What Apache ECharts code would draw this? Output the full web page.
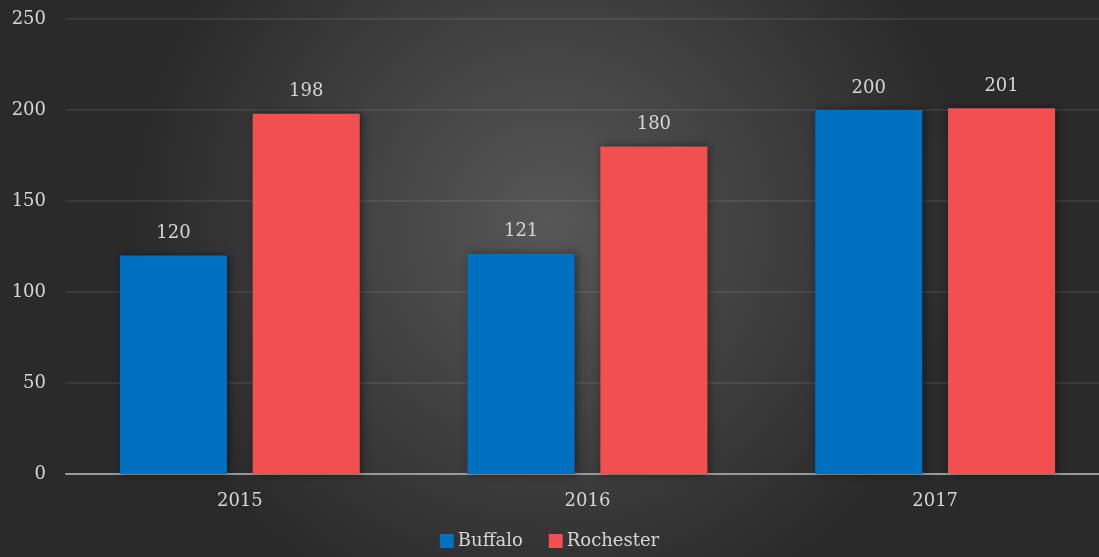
<!DOCTYPE html>
<html>
<head>
<meta charset="utf-8">
<script src="https://cdn.jsdelivr.net/npm/echarts@6/dist/echarts.min.js"></script>
<style>
html, body { margin: 0; padding: 0; }
#main { width: 1099px; height: 557px; }
</style>
</head>
<body>
<div id="main"></div>
<script>
var years = ['2015', '2016', '2017'];
var buffalo = [120, 121, 200];
var rochester = [198, 180, 201];

var fontName = 'DejaVu Serif';
var chart = echarts.init(document.getElementById('main'));

function barSeries(name, data, color) {
	return {
		name: name,
		type: 'bar',
		data: data,
		barWidth: '30.8%',
		barGap: '24%',
		itemStyle: {
			color: color,
			shadowBlur: 8,
			shadowOffsetX: 2,
			shadowColor: 'rgba(0,0,0,0.45)'
		},
		label: {
			show: true,
			position: 'top',
			distance: 13,
			color: '#d6d6d6',
			fontFamily: fontName,
			fontSize: 18
		}
	};
}

chart.setOption({
	backgroundColor: {
		type: 'radial', x: 0.5, y: 0.4, r: 0.75,
		colorStops: [
			{ offset: 0, color: '#575757' },
			{ offset: 1, color: '#2a2a2a' }
		]
	},
	textStyle: { fontFamily: fontName },
	grid: { left: 66, width: 1043, top: 19, bottom: 83, containLabel: false, outerBoundsMode: 'none' },
	legend: {
		bottom: 2,
		left: 'center',
		itemWidth: 14,
		itemHeight: 14,
		itemGap: 26,
		icon: 'rect',
		textStyle: { color: '#d6d6d6', fontSize: 18, fontFamily: fontName, padding: [0, 0, 0, -1] },
		data: ['Buffalo', 'Rochester']
	},
	xAxis: {
		type: 'category',
		data: years,
		axisTick: { show: false },
		axisLine: { lineStyle: { color: '#9a9a9a', width: 2 } },
		axisLabel: { color: '#d6d6d6', fontSize: 18, margin: 18, fontFamily: fontName }
	},
	yAxis: {
		type: 'value',
		min: 0,
		max: 250,
		interval: 50,
		axisLine: { show: false },
		axisTick: { show: false },
		splitLine: { lineStyle: { color: 'rgba(255,255,255,0.1)', width: 1.5 } },
		axisLabel: { color: '#d6d6d6', fontSize: 18, margin: 20, fontFamily: fontName }
	},
	series: [
		barSeries('Buffalo', buffalo, '#0070c0'),
		barSeries('Rochester', rochester, '#f25050')
	]
});
</script>
</body>
</html>
